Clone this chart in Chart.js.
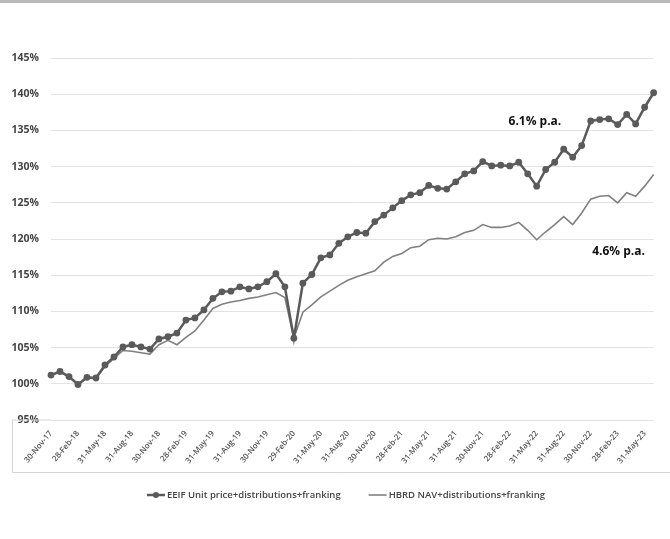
<!DOCTYPE html>
<html>
<head>
<meta charset="utf-8">
<script src="https://cdn.jsdelivr.net/npm/chart.js@4.4.0/dist/chart.umd.min.js"></script>
<style>
  html, body { margin: 0; padding: 0; background: #fff; overflow: hidden; }
  #topbar { position: absolute; left: 0; top: 0; width: 670px; height: 3px; background: #b9b9b9; }
  #wrap { position: absolute; left: 0; top: 0; width: 670px; height: 539px; }
</style>
</head>
<body>
<div id="wrap"><canvas id="perfChart" width="670" height="539"></canvas></div>
<div id="topbar"></div>
<script>
// ===== data (month-end, Nov-17 .. Jun-23) =====
const dates = [
  "30-Nov-17","31-Dec-17","31-Jan-18","28-Feb-18","31-Mar-18","30-Apr-18","31-May-18","30-Jun-18",
  "31-Jul-18","31-Aug-18","30-Sep-18","31-Oct-18","30-Nov-18","31-Dec-18","31-Jan-19","28-Feb-19",
  "31-Mar-19","30-Apr-19","31-May-19","30-Jun-19","31-Jul-19","31-Aug-19","30-Sep-19","31-Oct-19",
  "30-Nov-19","31-Dec-19","31-Jan-20","29-Feb-20","31-Mar-20","30-Apr-20","31-May-20","30-Jun-20",
  "31-Jul-20","31-Aug-20","30-Sep-20","31-Oct-20","30-Nov-20","31-Dec-20","31-Jan-21","28-Feb-21",
  "31-Mar-21","30-Apr-21","31-May-21","30-Jun-21","31-Jul-21","31-Aug-21","30-Sep-21","31-Oct-21",
  "30-Nov-21","31-Dec-21","31-Jan-22","28-Feb-22","31-Mar-22","30-Apr-22","31-May-22","30-Jun-22",
  "31-Jul-22","31-Aug-22","30-Sep-22","31-Oct-22","30-Nov-22","31-Dec-22","31-Jan-23","28-Feb-23",
  "31-Mar-23","30-Apr-23","31-May-23","30-Jun-23"
];

// EEIF unit price + distributions + franking (%)
const eeif = [
  101.2, 101.7, 101.0, 99.9, 100.9, 100.8, 102.6, 103.7,
  105.1, 105.4, 105.1, 104.8, 106.2, 106.5, 107.0, 108.8,
  109.1, 110.2, 111.8, 112.7, 112.8, 113.4, 113.1, 113.4,
  114.1, 115.2, 113.4, 106.3, 113.9, 115.1, 117.4, 117.8,
  119.4, 120.3, 120.9, 120.8, 122.4, 123.3, 124.3, 125.3,
  126.1, 126.4, 127.4, 127.0, 126.9, 127.9, 129.0, 129.4,
  130.7, 130.1, 130.2, 130.1, 130.6, 129.0, 127.3, 129.6,
  130.6, 132.4, 131.3, 132.9, 136.3, 136.5, 136.6, 135.8,
  137.2, 135.9, 138.2, 140.2
];

// HBRD NAV + distributions + franking (%)
const hbrd = [
  101.2, 101.6, 101.0, 99.9, 100.8, 100.7, 102.4, 103.5,
  104.6, 104.5, 104.3, 104.1, 105.4, 106.0, 105.4, 106.4,
  107.3, 108.8, 110.4, 111.0, 111.3, 111.5, 111.8, 112.0,
  112.3, 112.6, 111.9, 106.3, 109.9, 110.9, 112.0, 112.8,
  113.6, 114.3, 114.8, 115.2, 115.6, 116.8, 117.6, 118.0,
  118.8, 119.0, 119.9, 120.1, 120.0, 120.3, 120.9, 121.2,
  122.0, 121.6, 121.6, 121.8, 122.3, 121.2, 119.9, 121.0,
  122.0, 123.1, 122.0, 123.6, 125.5, 125.9, 126.0, 125.0,
  126.4, 125.9, 127.3, 128.9
];

const seriesNames = ["EEIF Unit price+distributions+franking", "HBRD NAV+distributions+franking"];

// return labels: text, category index, value
const notes = [
  { text: "6.1% p.a.", idx: 53.8, value: 136.2 },
  { text: "4.6% p.a.", idx: 63.1, value: 118.2 }
];

// ================== plugins ==================
const frame = {
  id: "frame",
  beforeDatasetsDraw(chart) {
    const { ctx, chartArea } = chart;
    const y0 = chart.scales.y.getPixelForValue(95);
    ctx.save();
    ctx.strokeStyle = "#d4d4d4";
    ctx.lineWidth = 1;
    ctx.beginPath();
    ctx.moveTo(12, y0); ctx.lineTo(chartArea.left, y0);
    ctx.moveTo(12.5, y0); ctx.lineTo(12.5, 472.5);
    ctx.lineTo(670, 472.5);
    ctx.stroke();
    ctx.restore();
  }
};

const notesPlugin = {
  id: "notes",
  afterDatasetsDraw(chart) {
    const { ctx, scales } = chart;
    ctx.save();
    ctx.font = "bold 12px 'Open Sans'";
    ctx.fillStyle = "#111";
    ctx.textAlign = "center";
    ctx.textBaseline = "middle";
    notes.forEach(n => {
      ctx.fillText(n.text, scales.x.getPixelForValue(n.idx), scales.y.getPixelForValue(n.value));
    });
    ctx.restore();
  }
};

const legendPlugin = {
  id: "myLegend",
  afterDraw(chart, args, opts) {
    const { ctx } = chart;
    ctx.save();
    ctx.font = "600 9.5px 'Open Sans'";
    ctx.textBaseline = "middle";
    const sym = 18, gap = 2, between = 28;
    const widths = seriesNames.map(s => ctx.measureText(s).width);
    const total = widths.reduce((a, w) => a + sym + gap + w, 0) + between;
    let x = opts.centerX - total / 2;
    const y = opts.y;
    chart.data.datasets.forEach((ds, i) => {
      ctx.strokeStyle = ds.borderColor;
      ctx.lineWidth = ds.borderWidth;
      ctx.beginPath();
      ctx.moveTo(x, y); ctx.lineTo(x + sym, y);
      ctx.stroke();
      if (ds.pointRadius > 0) {
        ctx.fillStyle = ds.pointBackgroundColor;
        ctx.beginPath();
        ctx.arc(x + sym / 2, y, 3, 0, Math.PI * 2);
        ctx.fill();
      }
      ctx.fillStyle = "#444";
      ctx.fillText(seriesNames[i], x + sym + gap, y);
      x += sym + gap + widths[i] + between;
    });
    ctx.restore();
  }
};

// ================== chart ==================
const ctx = document.getElementById("perfChart").getContext("2d");
const chart = new Chart(ctx, {
  type: "line",
  data: {
    labels: dates,
    datasets: [
      {
        label: seriesNames[0],
        data: eeif,
        borderColor: "#5a5a5a",
        borderWidth: 2.5,
        pointRadius: 3.4,
        pointBackgroundColor: "#5a5a5a",
        pointBorderWidth: 0,
        tension: 0
      },
      {
        label: seriesNames[1],
        data: hbrd,
        borderColor: "#808080",
        borderWidth: 1.6,
        pointRadius: 0,
        tension: 0
      }
    ]
  },
  options: {
    responsive: false,
    animation: false,
    layout: { padding: { left: 8, right: 2, top: 58, bottom: 59 } },
    plugins: {
      legend: { display: false },
      tooltip: { enabled: false },
      myLegend: { centerX: 346, y: 495 }
    },
    scales: {
      x: {
        offset: false,
        grid: { display: false, drawTicks: false },
        border: { display: false },
        ticks: {
          autoSkip: false,
          minRotation: 50,
          maxRotation: 50,
          padding: 9,
          color: "#555",
          font: { family: "'Open Sans'", size: 8, weight: "600" },
          callback: (v, i) => (i % 3 === 0 ? dates[i] : "")
        },
        afterFit: s => { s.height = 60; }
      },
      y: {
        min: 95,
        max: 145,
        grid: { color: "#e3e3e3", drawTicks: false },
        border: { display: false },
        ticks: {
          stepSize: 5,
          padding: 12,
          color: "#444",
          font: { family: "'Open Sans'", size: 10.5, weight: "bold" },
          callback: v => v + "%"
        },
        afterFit: s => { s.width = 43; }
      }
    }
  },
  plugins: [frame, notesPlugin, legendPlugin]
});
</script>
</body>
</html>
